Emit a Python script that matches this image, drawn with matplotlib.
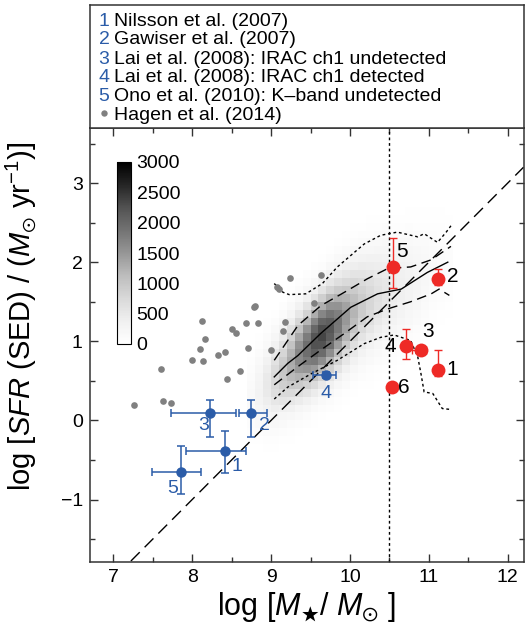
import numpy as np
import matplotlib
matplotlib.use("Agg")
import matplotlib.pyplot as plt
from matplotlib.ticker import MultipleLocator

plt.rcParams['font.family'] = ['Liberation Sans', 'DejaVu Sans']
plt.rcParams['mathtext.fontset'] = 'custom'
plt.rcParams['mathtext.rm'] = 'Liberation Sans'
plt.rcParams['mathtext.it'] = 'Liberation Sans:italic'
plt.rcParams['mathtext.bf'] = 'Liberation Sans:bold'
plt.rcParams['mathtext.fallback'] = 'stixsans'

# ---------------- data ----------------
# Hagen et al. (2014) grey points
hagen_x = [7.26, 7.60, 7.63, 7.73, 8.00, 8.10, 8.13, 8.14, 8.16, 8.33, 8.41, 8.44,
           8.51, 8.55, 8.61, 8.68, 8.71, 8.78, 8.80, 8.84, 9.00, 9.08, 9.10, 9.15,
           9.18, 9.24, 9.54, 9.63]
hagen_y = [0.20, 0.65, 0.25, 0.22, 0.76, 0.90, 1.26, 0.75, 1.03, 0.83, 0.86, 0.52,
           1.16, 1.10, 0.63, 1.23, 0.92, 1.43, 1.45, 1.23, 0.89, 1.68, 1.66, 1.13,
           1.25, 1.80, 1.48, 1.84]

# literature LAE stacks (blue)
lit_id = ['1', '2', '3', '4', '5']
lit_x = [8.41, 8.74, 8.23, 9.69, 7.86]
lit_y = [-0.39, 0.09, 0.09, 0.57, -0.65]
lit_xerr_lo = [0.49, 0.15, 0.50, 0.16, 0.37]
lit_xerr_hi = [0.27, 0.21, 0.33, 0.13, 0.25]
lit_yerr_lo = [0.28, 0.30, 0.30, 0.04, 0.28]
lit_yerr_hi = [0.25, 0.17, 0.17, 0.04, 0.33]
lit_lab_dx = [9, 10, -5, 0, -6]      # label offsets (points)
lit_lab_dy = [-11, -9, -9, -13, -12]

# this work (red)
red_id = ['1', '2', '3', '4', '5', '6']
red_x = [11.12, 11.11, 10.90, 10.71, 10.54, 10.53]
red_y = [0.64, 1.79, 0.89, 0.94, 1.94, 0.42]
red_xerr_lo = [0.0, 0.0, 0.12, 0.0, 0.0, 0.0]
red_xerr_hi = [0.0, 0.0, 0.06, 0.0, 0.0, 0.0]
red_yerr_lo = [0.08, 0.08, 0.0, 0.17, 0.27, 0.0]
red_yerr_hi = [0.25, 0.13, 0.0, 0.21, 0.37, 0.0]
red_lab_dx = [10, 11, 5, -11, 7, 9]
red_lab_dy = [0, 2, 13, 0, 11, 0]

# density map: per-column ridge
hm_x = [8.75, 8.85, 8.95, 9.05, 9.15, 9.25, 9.35, 9.45, 9.55, 9.65, 9.75, 9.85, 9.95,
        10.05, 10.15, 10.25, 10.35, 10.45, 10.55, 10.65, 10.75, 10.85, 10.95, 11.05,
        11.15, 11.25]
hm_center = [0.30, 0.38, 0.45, 0.53, 0.62, 0.72, 0.82, 0.90, 0.98, 1.06, 1.14, 1.22,
             1.30, 1.38, 1.45, 1.50, 1.55, 1.60, 1.63, 1.67, 1.72, 1.77, 1.82, 1.88,
             1.93, 1.98]
hm_peak = [150, 300, 500, 750, 1000, 1300, 1650, 1950, 2250, 2350, 2200, 1850, 1500,
           1200, 950, 780, 650, 550, 450, 380, 320, 260, 200, 150, 110, 80]
hm_sigma = [0.32, 0.32, 0.33, 0.34, 0.34, 0.35, 0.35, 0.35, 0.35, 0.35, 0.36, 0.37, 0.38,
            0.39, 0.40, 0.41, 0.42, 0.42, 0.42, 0.42, 0.42, 0.42, 0.42, 0.42, 0.42, 0.42]
hm_y_edges = np.round(np.arange(-0.6, 2.91, 0.1), 2)

# percentile curves
med_x = [9.04, 9.21, 9.34, 9.63, 10.01, 10.35, 10.65, 10.98, 11.24]
med_y = [0.55, 0.72, 0.82, 1.10, 1.43, 1.60, 1.66, 1.87, 2.00]
updash_x = [9.04, 9.34, 9.63, 9.93, 10.22, 10.48, 10.77, 11.03, 11.28]
updash_y = [0.76, 1.20, 1.45, 1.62, 1.79, 1.92, 1.94, 2.03, 2.20]
lodash_x = [9.04, 9.34, 9.63, 9.93, 10.22, 10.48, 10.77, 11.03, 11.13, 11.26]
lodash_y = [0.45, 0.68, 0.89, 1.10, 1.31, 1.41, 1.50, 1.60, 1.66, 1.58]
updot_x = [9.04, 9.15, 9.23, 9.44, 9.65, 9.84, 10.18, 10.39, 10.60, 10.86, 10.94, 11.11,
           11.22, 11.28]
updot_y = [1.73, 1.62, 1.59, 1.60, 1.73, 1.94, 2.23, 2.34, 2.38, 2.32, 2.36, 2.25,
           2.38, 2.46]
lodot_x = [9.04, 9.21, 9.51, 9.84, 10.18, 10.39, 10.56, 10.77, 10.86, 10.90, 10.94, 11.05,
           11.17, 11.26]
lodot_y = [0.27, 0.42, 0.59, 0.76, 0.97, 1.05, 1.08, 1.01, 0.80, 0.59, 0.36, 0.34,
           0.15, 0.14]

# constant sSFR line and mass cut
ssfr_x = [6.7, 12.2]
ssfr_y = [-2.3, 3.2]
mass_cut = 10.5

legend_nums = ['1', '2', '3', '4', '5']
legend_texts = ['Nilsson et al. (2007)', 'Gawiser et al. (2007)',
                'Lai et al. (2008): IRAC ch1 undetected',
                'Lai et al. (2008): IRAC ch1 detected',
                'Ono et al. (2010): K\u2013band undetected']
legend_hagen = 'Hagen et al. (2014)'

cbar_ticks = [0, 500, 1000, 1500, 2000, 2500, 3000]

# ---------------- styling ----------------
BLUE = '#2b5ca8'
RED = '#ee2a26'
GREY = '#808080'

W, H = 531, 630
fig = plt.figure(figsize=(W / 100, H / 100), dpi=100)

ax_l, ax_r, ax_t, ax_b = 89.7, 523.5, 127.7, 562.0
ax = fig.add_axes([ax_l / W, 1 - ax_b / H, (ax_r - ax_l) / W, (ax_b - ax_t) / H])

# density map
hx = np.array(hm_x)
x_edges = np.concatenate([hx - 0.05, [hx[-1] + 0.05]])
yc = 0.5 * (hm_y_edges[:-1] + hm_y_edges[1:])
Z = np.zeros((len(yc), len(hx)))
for j in range(len(hx)):
    Z[:, j] = hm_peak[j] * np.exp(-0.5 * ((yc - hm_center[j]) / hm_sigma[j]) ** 2)
Z = np.ma.masked_less(Z, 25)
mesh = ax.pcolormesh(x_edges, hm_y_edges, Z, cmap='Greys', vmin=0, vmax=3000,
                     shading='flat', zorder=1, rasterized=True)

# lines
ax.plot(ssfr_x, ssfr_y, color='black', lw=1.0, dashes=(9, 5), zorder=2)
ax.axvline(mass_cut, color='black', lw=1.0, ls=(0, (2, 2)), zorder=2)
ax.plot(med_x, med_y, color='black', lw=1.0, zorder=3)
ax.plot(updash_x, updash_y, color='black', lw=1.0, dashes=(7, 4), zorder=3)
ax.plot(lodash_x, lodash_y, color='black', lw=1.0, dashes=(7, 4), zorder=3)
ax.plot(updot_x, updot_y, color='black', lw=1.0, ls=(0, (2, 2)), zorder=3)
ax.plot(lodot_x, lodot_y, color='black', lw=1.0, ls=(0, (2, 2)), zorder=3)

# Hagen points
ax.plot(hagen_x, hagen_y, 'o', color=GREY, ms=4.8, mec='none', zorder=4)

# literature points
ax.errorbar(lit_x, lit_y, xerr=[lit_xerr_lo, lit_xerr_hi], yerr=[lit_yerr_lo, lit_yerr_hi],
            fmt='o', color=BLUE, ms=6.5, elinewidth=1.1, capsize=3, capthick=1.1, zorder=5)
for i, lab in enumerate(lit_id):
    ax.annotate(lab, (lit_x[i], lit_y[i]), xytext=(lit_lab_dx[i], lit_lab_dy[i]),
                textcoords='offset points', ha='center', va='center',
                fontsize=14, color=BLUE, zorder=6)

# this work
ax.errorbar(red_x, red_y, xerr=[red_xerr_lo, red_xerr_hi], yerr=[red_yerr_lo, red_yerr_hi],
            fmt='none', ecolor=RED, elinewidth=1.0, capsize=3, capthick=1.0, zorder=5)
ax.plot(red_x, red_y, 'o', color=RED, ms=10, mec='none', zorder=6)
for i, lab in enumerate(red_id):
    ax.annotate(lab, (red_x[i], red_y[i]), xytext=(red_lab_dx[i], red_lab_dy[i]),
                textcoords='offset points', ha='center', va='center',
                fontsize=15, color='black', zorder=7)

ax.set_xlim(6.7, 12.2)
ax.set_ylim(-1.79, 3.7)
ax.xaxis.set_major_locator(MultipleLocator(1))
ax.xaxis.set_minor_locator(MultipleLocator(0.5))
ax.yaxis.set_major_locator(MultipleLocator(1))
ax.yaxis.set_minor_locator(MultipleLocator(0.5))
ax.tick_params(which='both', direction='in', top=True, right=True, labelsize=14,
               color='#333333', width=1.0)
ax.tick_params(which='major', length=6, pad=5)
ax.tick_params(which='minor', length=3.5)
for s in ax.spines.values():
    s.set_linewidth(1.1)
    s.set_color('#333333')

ax.set_xlabel(r'log [$M_{\bigstar}$/ $M_{\odot}$ ]', fontsize=22, labelpad=3)
ax.set_ylabel(r'log [$\mathit{SFR}$ (SED) / ($M_{\odot}$ yr$^{-1}$)]', fontsize=21)
ax.yaxis.set_label_coords(-0.118, 0.565)

# colorbar
cax = fig.add_axes([117 / W, 1 - 344 / H, 14 / W, 182 / H])
cb = fig.colorbar(mesh, cax=cax, ticks=cbar_ticks)
cb.ax.tick_params(length=0, labelsize=14, pad=4)
cb.outline.set_linewidth(0.8)

# legend box
lg_t, lg_b = 5.3, 127.7
lax = fig.add_axes([ax_l / W, 1 - lg_b / H, (ax_r - ax_l) / W, (lg_b - lg_t) / H])
lax.set_xticks([])
lax.set_yticks([])
for s in lax.spines.values():
    s.set_linewidth(1.1)
    s.set_color('#333333')
line_px = [21.7, 40.0, 59.0, 77.7, 96.7, 115.0]
num_x = (98.5 - ax_l) / (ax_r - ax_l)
txt_x = (114.5 - ax_l) / (ax_r - ax_l)
for i, (n, t) in enumerate(zip(legend_nums, legend_texts)):
    yy = (lg_b - line_px[i]) / (lg_b - lg_t)
    lax.text(num_x, yy, n, color=BLUE, fontsize=14, va='center', ha='left',
             transform=lax.transAxes)
    lax.text(txt_x, yy, t, color='black', fontsize=14, va='center', ha='left',
             transform=lax.transAxes)
yy = (lg_b - line_px[5]) / (lg_b - lg_t)
lax.plot([(104 - ax_l) / (ax_r - ax_l)], [yy + 0.02], 'o', color=GREY, ms=4.6, mec='none',
         transform=lax.transAxes)
lax.text(txt_x, yy, legend_hagen, color='black', fontsize=14, va='center', ha='left',
         transform=lax.transAxes)
lax.set_xlim(0, 1)
lax.set_ylim(0, 1)

fig.savefig('out.png', dpi=100)
